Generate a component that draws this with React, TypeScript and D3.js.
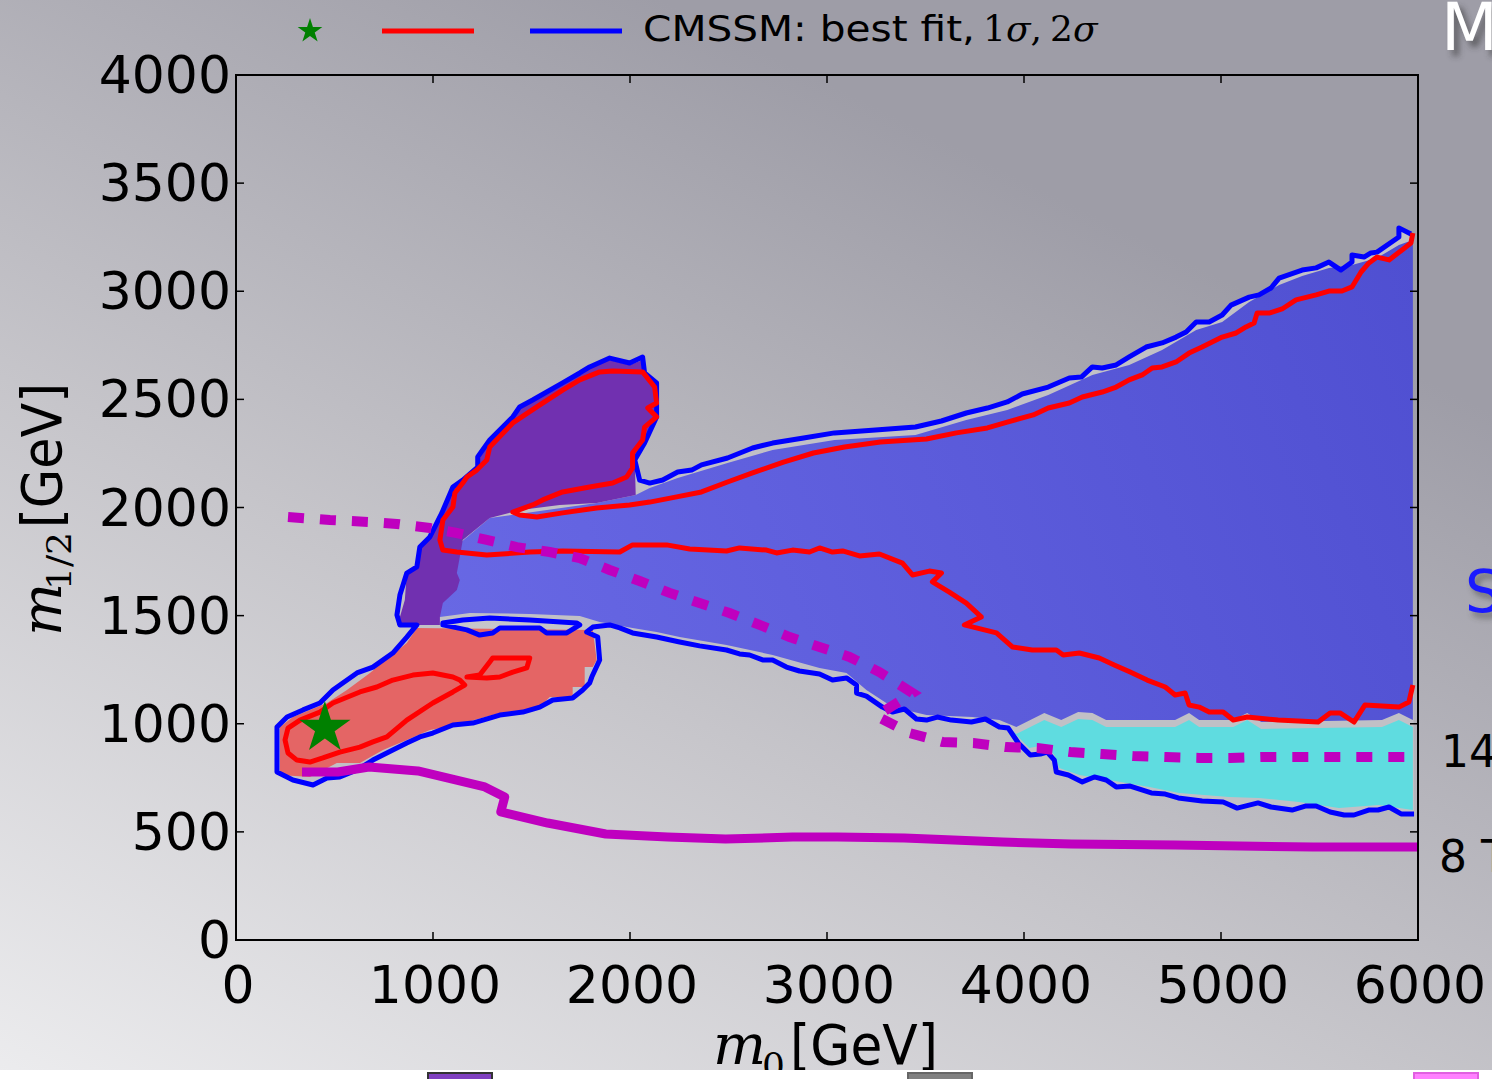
import React from 'react';
import * as d3 from 'd3';

type Pt = [number, number];

// all pairs are [m0, m1/2] in GeV

// 2 sigma contour (blue), open at the right edge
const blue2sigma: Pt[] = [
  [5980, 583], [5914, 583], [5853, 615], [5797, 601], [5749, 601], [5675, 578], [5625, 578],
  [5554, 592], [5483, 620], [5432, 620], [5361, 601], [5254, 615], [5188, 634], [5082, 610],
  [5011, 638], [4904, 643], [4783, 657], [4717, 675], [4646, 680], [4539, 712], [4468, 708],
  [4417, 740], [4357, 754], [4296, 731], [4225, 763], [4164, 777], [4154, 832], [4118, 869],
  [4083, 860], [4032, 855], [3971, 911], [3920, 980], [3875, 985], [3804, 1022], [3733, 1008],
  [3631, 1017], [3560, 1031], [3505, 1017], [3454, 1022], [3393, 1068], [3332, 1054],
  [3281, 1077], [3200, 1128], [3150, 1142], [3150, 1179], [3099, 1212], [3028, 1202],
  [2962, 1230], [2860, 1244], [2794, 1262], [2724, 1295], [2673, 1295], [2607, 1318],
  [2556, 1323], [2490, 1341], [2353, 1360], [2252, 1378], [2135, 1401], [2013, 1420],
  [1948, 1443], [1897, 1457], [1811, 1447], [1780, 1424], [1836, 1401], [1846, 1295],
  [1806, 1216], [1795, 1188], [1760, 1156], [1709, 1119], [1608, 1110], [1542, 1077],
  [1456, 1054], [1339, 1040], [1202, 1003], [1101, 994], [999, 957], [933, 939], [867, 911],
  [796, 879], [695, 832], [614, 786], [527, 754], [462, 749], [391, 717], [289, 740],
  [208, 777], [208, 985], [259, 1031], [340, 1064], [426, 1096], [492, 1156], [614, 1235],
  [695, 1262], [796, 1327], [867, 1401], [918, 1457], [832, 1457], [817, 1503], [832, 1595],
  [867, 1697], [918, 1725], [933, 1817], [984, 1864], [1045, 1975], [1101, 2095], [1151, 2127],
  [1227, 2187], [1227, 2234], [1288, 2312], [1405, 2419], [1440, 2465], [1506, 2497],
  [1658, 2576], [1745, 2622], [1795, 2650], [1897, 2691], [1998, 2668], [2064, 2696],
  [2074, 2622], [2135, 2576], [2135, 2419], [2074, 2298], [2024, 2220], [2049, 2127],
  [2100, 2113], [2166, 2127], [2242, 2164], [2313, 2173], [2363, 2197], [2495, 2229],
  [2622, 2275], [2724, 2298], [2881, 2321], [3038, 2345], [3246, 2358], [3449, 2372],
  [3581, 2400], [3707, 2437], [3814, 2460], [3915, 2488], [3991, 2525], [4123, 2557],
  [4230, 2599], [4291, 2603], [4347, 2650], [4397, 2645], [4468, 2659], [4534, 2696],
  [4620, 2742], [4701, 2761], [4772, 2788], [4823, 2812], [4874, 2858], [4940, 2858],
  [5006, 2890], [5051, 2936], [5143, 2973], [5193, 2983], [5254, 3015], [5295, 3061],
  [5412, 3098], [5483, 3108], [5548, 3135], [5609, 3098], [5665, 3135], [5665, 3168],
  [5726, 3158], [5761, 3177], [5792, 3181], [5903, 3251], [5903, 3293], [5964, 3265],
];

const blue2sigmaIsland: Pt[] = [
  [1050, 1466], [1151, 1480], [1288, 1489], [1491, 1480], [1729, 1466], [1745, 1457],
  [1679, 1420], [1577, 1420], [1542, 1443], [1339, 1443], [1303, 1420], [1237, 1410],
  [1172, 1434], [1050, 1457],
];

// 1 sigma contour (red), open at the right edge
const red1sigma: Pt[] = [
  [5974, 1179], [5954, 1101], [5903, 1077], [5731, 1087], [5675, 1008], [5604, 1050],
  [5554, 1050], [5493, 1008], [5290, 1017], [5133, 1031], [5062, 1017], [5011, 1054],
  [4940, 1054], [4889, 1077], [4838, 1087], [4818, 1142], [4767, 1133], [4717, 1170],
  [4625, 1202], [4539, 1239], [4458, 1272], [4382, 1304], [4281, 1327], [4199, 1318],
  [4164, 1341], [4042, 1341], [3941, 1355], [3860, 1420], [3697, 1457], [3783, 1494],
  [3707, 1558], [3621, 1609], [3535, 1656], [3581, 1697], [3520, 1706], [3434, 1688],
  [3383, 1743], [3266, 1785], [3165, 1776], [3079, 1799], [3028, 1794], [2962, 1813],
  [2911, 1794], [2825, 1803], [2744, 1790], [2693, 1803], [2556, 1813], [2490, 1799],
  [2303, 1808], [2186, 1827], [2013, 1827], [1948, 1794], [1658, 1799], [1491, 1794],
  [1273, 1780], [1121, 1794], [1050, 1803], [1035, 1850], [1050, 1942], [1101, 2002],
  [1111, 2067], [1151, 2113], [1172, 2141], [1222, 2173], [1273, 2220], [1288, 2280],
  [1405, 2391], [1527, 2465], [1658, 2543], [1745, 2590], [1846, 2627], [1912, 2631],
  [2064, 2627], [2125, 2557], [2135, 2483], [2090, 2460], [2135, 2419], [2074, 2372],
  [2064, 2312], [2013, 2252], [2013, 2183], [1983, 2141], [1912, 2113], [1795, 2095],
  [1658, 2072], [1557, 2035], [1506, 2012], [1405, 1979], [1440, 1965], [1527, 1956],
  [1658, 1975], [1831, 1998], [1998, 2012], [2100, 2025], [2237, 2049], [2363, 2072],
  [2495, 2118], [2622, 2160], [2779, 2210], [2931, 2252], [3089, 2280], [3271, 2303],
  [3505, 2317], [3657, 2345], [3814, 2368], [3915, 2395], [4047, 2428], [4123, 2460],
  [4230, 2483], [4296, 2511], [4397, 2534], [4468, 2557], [4534, 2590], [4600, 2613],
  [4651, 2645], [4701, 2650], [4772, 2673], [4838, 2714], [4904, 2742], [5006, 2788],
  [5077, 2807], [5127, 2835], [5168, 2853], [5183, 2899], [5244, 2899], [5310, 2918],
  [5381, 2960], [5483, 2983], [5548, 3001], [5614, 3001], [5665, 3020], [5711, 3089],
  [5751, 3131], [5792, 3158], [5853, 3145], [5919, 3191], [5964, 3223], [5974, 3269],
];

const red1sigmaLow: Pt[] = [
  [1136, 1202], [1161, 1179], [1101, 1147], [999, 1096], [867, 1017], [766, 939], [695, 916],
  [629, 892], [527, 869], [441, 842], [375, 823], [309, 832], [264, 865], [249, 925],
  [264, 980], [325, 1017], [426, 1054], [492, 1096], [629, 1147], [715, 1170], [796, 1202],
  [898, 1225], [999, 1235], [1101, 1216],
];

const red1sigmaSmall: Pt[] = [
  [1172, 1216], [1237, 1225], [1288, 1286], [1303, 1304], [1491, 1304], [1476, 1258],
  [1405, 1239], [1339, 1216], [1273, 1212],
];

// LHC reach lines
const lhc14: Pt[] = [
  [264, 1956], [477, 1942], [680, 1933], [817, 1924], [984, 1905], [1121, 1882], [1273, 1850],
  [1425, 1817], [1593, 1794], [1745, 1766], [1897, 1711], [2049, 1660], [2201, 1605],
  [2353, 1558], [2505, 1512], [2658, 1457], [2810, 1401], [2962, 1355], [3114, 1309],
  [3266, 1239], [3434, 1142], [3251, 1036], [3418, 957], [3586, 916], [3743, 911], [3910, 892],
  [4068, 888], [4235, 869], [4397, 860], [4554, 851], [4722, 846], [4889, 842], [5046, 842],
  [5204, 846], [5381, 846], [5538, 846], [5701, 846], [5868, 846], [5995, 846],
];

const lhc8: Pt[] = [
  [335, 777], [517, 777], [675, 800], [923, 782], [1263, 708], [1364, 661], [1344, 592],
  [1582, 541], [1877, 490], [2191, 476], [2485, 467], [2825, 476], [3053, 476], [3393, 472],
  [3890, 453], [4240, 444], [4767, 439], [5467, 430], [5995, 430],
];

const bestFit: Pt = [451, 980];

// shaded regions
const areaBlue: Pt[] = [
  [1035, 1494], [1187, 1512], [1491, 1508], [1745, 1498], [1846, 1471], [2013, 1443],
  [2135, 1424], [2252, 1401], [2490, 1364], [2724, 1318], [2962, 1258], [3099, 1235],
  [3200, 1156], [3332, 1077], [3505, 1040], [3738, 1031], [3875, 1017], [3961, 985],
  [4103, 1050], [4189, 1017], [4275, 1054], [4347, 1050], [4417, 1017], [4767, 1017],
  [4838, 1050], [4889, 1017], [5062, 1017], [5133, 1050], [5204, 1008], [5817, 1017],
  [5903, 1050], [5974, 1017], [5974, 3237], [5903, 3214], [5792, 3154], [5665, 3121],
  [5548, 3108], [5412, 3071], [5295, 3029], [5143, 2950], [5006, 2858], [4874, 2821],
  [4701, 2728], [4534, 2659], [4347, 2613], [4123, 2520], [3915, 2451], [3707, 2405],
  [3449, 2335], [3038, 2312], [2724, 2266], [2495, 2206], [2242, 2136], [2100, 2090],
  [2029, 2058], [1831, 2021], [1288, 1951], [1035, 1757],
];

const areaPurple: Pt[] = [
  [817, 1457], [832, 1494], [857, 1572], [867, 1697], [918, 1725], [933, 1817], [984, 1864],
  [1045, 1975], [1101, 2095], [1151, 2127], [1227, 2187], [1227, 2234], [1288, 2312],
  [1405, 2419], [1440, 2465], [1506, 2497], [1658, 2576], [1745, 2622], [1795, 2650],
  [1897, 2682], [1998, 2659], [2064, 2682], [2074, 2613], [2125, 2566], [2125, 2419],
  [2074, 2312], [2024, 2229], [2029, 2058], [1831, 2021], [1643, 2012], [1440, 1988],
  [1288, 1951], [1151, 1850], [1136, 1771], [1121, 1697], [1136, 1665], [1121, 1619],
  [1050, 1558], [1035, 1494], [1035, 1457],
];

const areaRed: Pt[] = [
  [918, 1443], [1811, 1434], [1831, 1295], [1811, 1262], [1770, 1262], [1770, 1170],
  [1709, 1170], [1709, 1124], [1593, 1124], [1527, 1064], [1339, 1050], [1172, 1008],
  [1070, 985], [984, 971], [867, 925], [746, 879], [629, 819], [512, 819], [375, 754],
  [223, 763], [223, 985], [289, 1031], [462, 1096], [563, 1156], [680, 1235], [746, 1286],
  [867, 1373],
];

const areaCyan: Pt[] = [
  [3925, 980], [3961, 953], [4103, 1017], [4189, 985], [4275, 1022], [4347, 1017],
  [4417, 985], [4767, 985], [4838, 1017], [4889, 985], [5062, 985], [5133, 1017],
  [5204, 976], [5817, 985], [5903, 1017], [5974, 985], [5974, 601], [5802, 624],
  [5599, 610], [5396, 638], [5193, 657], [5041, 661], [4788, 680], [4636, 708], [4433, 740],
  [4281, 763], [4179, 795], [4154, 855], [4103, 902], [4027, 888], [3976, 934],
];

const xTicks = [0, 1000, 2000, 3000, 4000, 5000, 6000];
const yTicks = [0, 500, 1000, 1500, 2000, 2500, 3000, 3500, 4000];

const W = 1492;
const H = 1079;

export default function App() {
  const x = d3.scaleLinear().domain([0, 6000]).range([236, 1418]);
  const y = d3.scaleLinear().domain([0, 4000]).range([940, 75]);

  const line = d3.line<Pt>().x((d) => x(d[0])).y((d) => y(d[1]));
  const closed = d3.line<Pt>().x((d) => x(d[0])).y((d) => y(d[1])).curve(d3.curveLinearClosed);

  const star = (r: number) => d3.symbol().type(d3.symbolStar).size((r * r) / 0.8908130915292852)();

  const sans = 'DejaVu Sans, sans-serif';
  const serif = 'DejaVu Serif, serif';

  return (
    <svg width={W} height={H} style={{ position: 'absolute', left: 0, top: 0, display: 'block' }}>
      <defs>
        <linearGradient id="bg" gradientUnits="userSpaceOnUse" x1={0} y1={1079} x2={560} y2={-50}>
          <stop offset="0" stopColor="#ececee" />
          <stop offset="0.5" stopColor="#c6c5ca" />
          <stop offset="1" stopColor="#9e9da7" />
        </linearGradient>
        <linearGradient id="bluefill" gradientUnits="userSpaceOnUse" x1={440} y1={620} x2={1414} y2={240}>
          <stop offset="0" stopColor="#6868e4" />
          <stop offset="1" stopColor="#4f4fd1" />
        </linearGradient>
        <filter id="shadow" x="-20%" y="-20%" width="160%" height="160%">
          <feGaussianBlur stdDeviation="3" />
        </filter>
      </defs>

      <rect x={0} y={0} width={W} height={H} fill="url(#bg)" />

      {/* pixelated 2 sigma area underlay */}
      <path d={closed(blue2sigma) ?? ''} fill="#c1c0c6" />
      <path d={closed(blue2sigmaIsland) ?? ''} fill="url(#bg)" />

      <path d={closed(areaBlue) ?? ''} fill="url(#bluefill)" />
      <path d={closed(areaCyan) ?? ''} fill="#5fdce0" />
      <path d={closed(areaRed) ?? ''} fill="#e46565" />
      <path d={closed(areaPurple) ?? ''} fill="#7130b0" />

      <g fill="none" strokeLinejoin="round">
        <path d={line(blue2sigma) ?? ''} stroke="#0000ff" strokeWidth={5} />
        <path d={closed(blue2sigmaIsland) ?? ''} stroke="#0000ff" strokeWidth={5} />
        <path d={line(red1sigma) ?? ''} stroke="#ff0000" strokeWidth={5} />
        <path d={closed(red1sigmaLow) ?? ''} stroke="#ff0000" strokeWidth={5} />
        <path d={closed(red1sigmaSmall) ?? ''} stroke="#ff0000" strokeWidth={5} />
        <path d={line(lhc8) ?? ''} stroke="#bf00bf" strokeWidth={9} strokeLinejoin="round" />
        <path d={line(lhc14) ?? ''} stroke="#bf00bf" strokeWidth={10} strokeDasharray="16 16" strokeLinejoin="miter" />
      </g>

      <path d={star(27) ?? ''} transform={`translate(${x(bestFit[0])},${y(bestFit[1])})`} fill="#008000" />

      {/* axes frame and ticks */}
      <rect x={236} y={75} width={1182} height={865} fill="none" stroke="#000" strokeWidth={2} />
      {yTicks.map((t) => (
        <g key={'y' + t}>
          <line x1={236} x2={244} y1={y(t)} y2={y(t)} stroke="#000" strokeWidth={1.5} />
          <line x1={1410} x2={1418} y1={y(t)} y2={y(t)} stroke="#000" strokeWidth={1.5} />
          <text x={231} y={y(t) + 18} textAnchor="end" fontFamily={sans} fontSize={52} fill="#000">
            {t}
          </text>
        </g>
      ))}
      {xTicks.map((t) => (
        <g key={'x' + t}>
          <line x1={x(t)} x2={x(t)} y1={940} y2={932} stroke="#000" strokeWidth={1.5} />
          <line x1={x(t)} x2={x(t)} y1={75} y2={83} stroke="#000" strokeWidth={1.5} />
          <text x={x(t) + 2} y={1003} textAnchor="middle" fontFamily={sans} fontSize={52} fill="#000">
            {t}
          </text>
        </g>
      ))}

      {/* axis labels */}
      <text x={713} y={1064} fontFamily={serif} fontStyle="italic" fontSize={56} fill="#000">m</text>
      <text x={762} y={1078} fontFamily={serif} fontSize={36} fill="#000">0</text>
      <text x={790} y={1064} fontFamily={sans} fontSize={56} textLength={148} lengthAdjust="spacingAndGlyphs" fill="#000">
        [GeV]
      </text>

      <g transform="translate(61,636) rotate(-90)">
        <text x={0} y={0} fontFamily={serif} fontStyle="italic" fontSize={56} fill="#000">m</text>
        <text x={46} y={10} fontFamily={serif} fontSize={34} textLength={58} lengthAdjust="spacingAndGlyphs" fill="#000">1/2</text>
        <text x={108} y={0} fontFamily={sans} fontSize={56} textLength={145} lengthAdjust="spacingAndGlyphs" fill="#000">
          [GeV]
        </text>
      </g>

      {/* legend */}
      <path d={star(13) ?? ''} transform="translate(310,31)" fill="#008000" />
      <line x1={382} x2={474} y1={31} y2={31} stroke="#ff0000" strokeWidth={5} />
      <line x1={530} x2={622} y1={31} y2={31} stroke="#0000ff" strokeWidth={5} />
      <text x={643} y={41} fontFamily={sans} fontSize={36} textLength={332} lengthAdjust="spacingAndGlyphs" fill="#000">
        CMSSM: best fit,
      </text>
      <text x={983} y={41} fontFamily={serif} fontSize={36} fill="#000">
        1<tspan fontStyle="italic">σ</tspan>,
      </text>
      <text x={1050} y={41} fontFamily={serif} fontSize={36} fill="#000">
        2<tspan fontStyle="italic">σ</tspan>
      </text>

      {/* slide fragments on the right */}
      <text x={1446} y={56} fontFamily={sans} fontSize={66} fill="#333" opacity={0.6} filter="url(#shadow)">M</text>
      <text x={1441} y={50} fontFamily={sans} fontSize={66} fill="#ffffff">M</text>
      <text x={1469} y={617} fontFamily={sans} fontSize={58} fill="#333" opacity={0.5} filter="url(#shadow)">S</text>
      <text x={1465} y={612} fontFamily={sans} fontSize={58} fill="#1a1aff">S</text>
      <text x={1441} y={767} fontFamily={sans} fontSize={44} fill="#000">14</text>
      <text x={1439} y={872} fontFamily={sans} fontSize={44} fill="#000">8 T</text>

      {/* bottom strip of the slide */}
      <rect x={0} y={1070} width={W} height={9} fill="#ffffff" />
      <rect x={428} y={1073} width={64} height={8} fill="#8040c0" stroke="#333" strokeWidth={2} />
      <rect x={908} y={1073} width={64} height={8} fill="#808080" stroke="#666" strokeWidth={2} />
      <rect x={1414} y={1073} width={64} height={8} fill="#ff80ff" stroke="#e060e0" strokeWidth={2} />
    </svg>
  );
}
